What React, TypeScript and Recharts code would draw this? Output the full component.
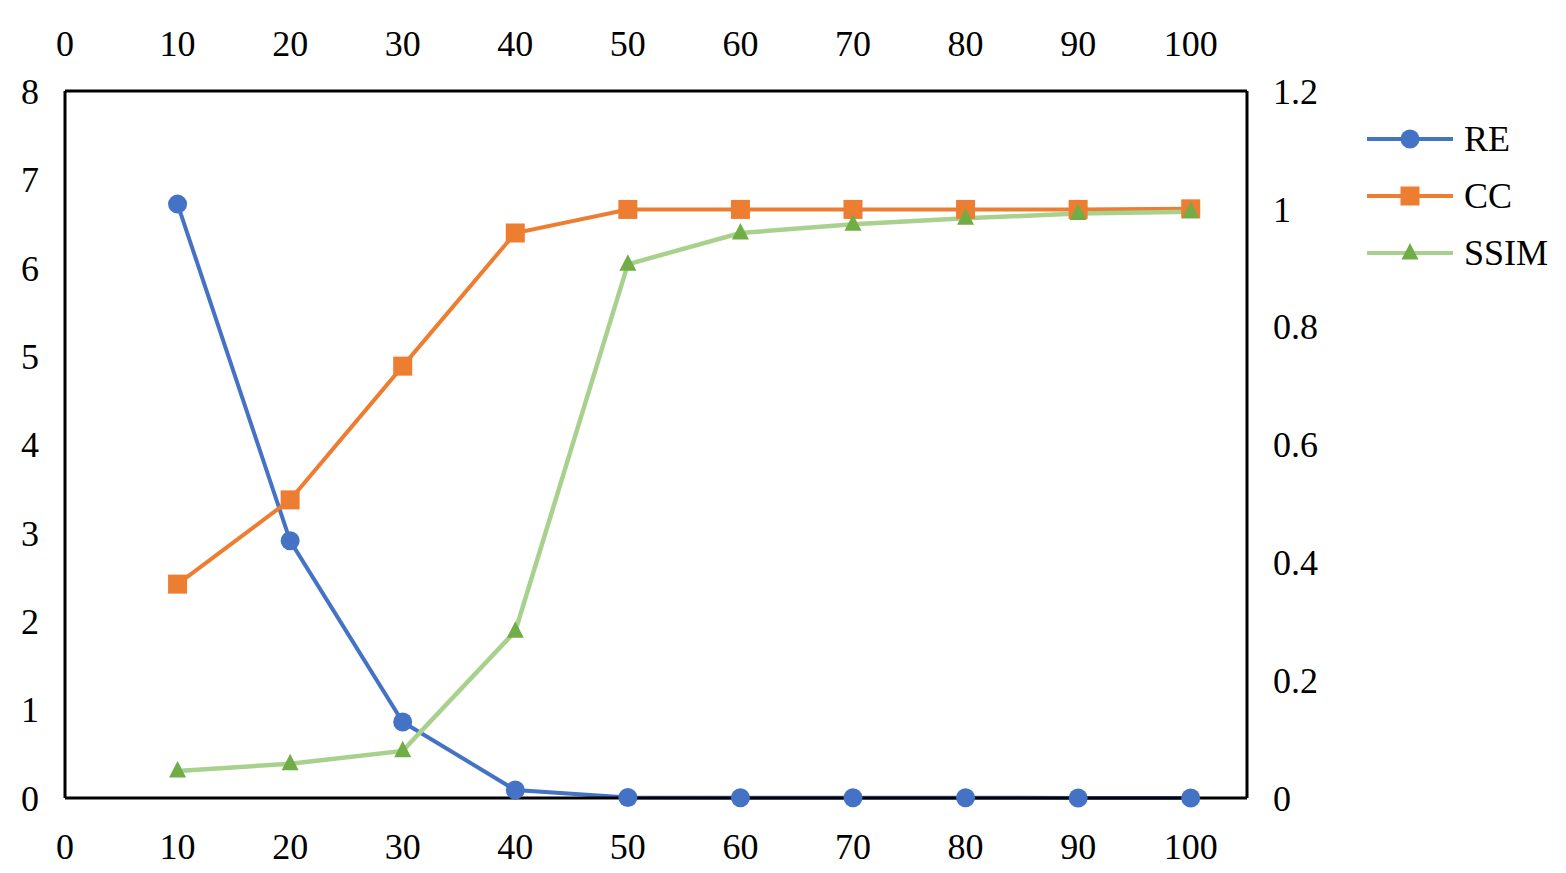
import React from "react";
import { Legend, Line, LineChart, XAxis, YAxis } from "recharts";

const steps = [10, 20, 30, 40, 50, 60, 70, 80, 90, 100];
const reValues = [6.72, 2.91, 0.86, 0.09, 0.005, 0.003, 0.002, 0.002, 0.001, 0.001];
const ccValues = [0.363, 0.506, 0.733, 0.959, 0.999, 0.999, 0.999, 0.999, 0.999, 1.0];
const ssimValues = [0.046, 0.058, 0.08, 0.283, 0.906, 0.959, 0.974, 0.984, 0.992, 0.995];

const xTicks = [0, 10, 20, 30, 40, 50, 60, 70, 80, 90, 100];
const leftTicks = [0, 1, 2, 3, 4, 5, 6, 7, 8];
const rightTicks = [0, 0.2, 0.4, 0.6, 0.8, 1, 1.2];

const BLUE = "#4472C4";
const ORANGE = "#ED7D31";
const GREEN_LINE = "#A9D18E";
const GREEN_MARK = "#70AD47";
const FONT = '"Liberation Serif", "Times New Roman", serif';

const data = steps.map((x, i) => ({
  x,
  re: reValues[i],
  cc: ccValues[i],
  ssim: ssimValues[i],
}));

const tickStyle = { fill: "#000", fontSize: 36, fontFamily: FONT };
const axisLine = { stroke: "#000", strokeWidth: 3 };

function CircleDot(props: any) {
  const { cx, cy, index } = props;
  if (cx == null || cy == null) return null;
  return <circle key={`re-${index}`} cx={cx} cy={cy} r={9.5} fill={BLUE} />;
}

function SquareDot(props: any) {
  const { cx, cy, index } = props;
  if (cx == null || cy == null) return null;
  return <rect key={`cc-${index}`} x={cx - 9.5} y={cy - 9.5} width={19} height={19} fill={ORANGE} />;
}

function TriangleDot(props: any) {
  const { cx, cy, index } = props;
  if (cx == null || cy == null) return null;
  const pts = `${cx},${cy - 10} ${cx - 8.5},${cy + 6.5} ${cx + 8.5},${cy + 6.5}`;
  return <polygon key={`ssim-${index}`} points={pts} fill={GREEN_MARK} />;
}

const legendItems = [
  { name: "RE", line: BLUE, marker: "circle" },
  { name: "CC", line: ORANGE, marker: "square" },
  { name: "SSIM", line: GREEN_LINE, marker: "triangle" },
];

function LegendContent() {
  return (
    <div style={{ fontFamily: FONT, fontSize: 36, color: "#000" }}>
      {legendItems.map((item) => (
        <div key={item.name} style={{ display: "flex", alignItems: "center", height: 57 }}>
          <svg width={98} height={30} style={{ display: "block" }}>
            <line x1={1} y1={15} x2={87} y2={15} stroke={item.line} strokeWidth={4} />
            {item.marker === "circle" ? <circle cx={44} cy={15} r={9.5} fill={BLUE} /> : null}
            {item.marker === "square" ? <rect x={34.5} y={5.5} width={19} height={19} fill={ORANGE} /> : null}
            {item.marker === "triangle" ? (
              <polygon points="44,5 35.5,21.5 52.5,21.5" fill={GREEN_MARK} />
            ) : null}
          </svg>
          <span style={{ lineHeight: "36px" }}>{item.name}</span>
        </div>
      ))}
    </div>
  );
}

export default function App() {
  return (
    <div style={{ position: "absolute", left: 0, top: 0, background: "#fff" }}>
      <LineChart width={1566} height={873} data={data} margin={{ top: 0, right: 0, bottom: 0, left: 0 }}>
        <XAxis
          xAxisId="bottom"
          dataKey="x"
          type="number"
          domain={[0, 105]}
          ticks={xTicks}
          orientation="bottom"
          height={75}
          tickLine={false}
          axisLine={axisLine}
          tick={tickStyle}
          tickMargin={29}
          interval={0}
        />
        <XAxis
          xAxisId="top"
          dataKey="x"
          type="number"
          domain={[0, 105]}
          ticks={xTicks}
          orientation="top"
          height={91}
          tickLine={false}
          axisLine={axisLine}
          tick={tickStyle}
          tickMargin={29}
          interval={0}
        />
        <YAxis
          yAxisId="left"
          type="number"
          domain={[0, 8]}
          ticks={leftTicks}
          width={65}
          tickLine={false}
          axisLine={axisLine}
          tick={tickStyle}
          tickMargin={20}
          interval={0}
        />
        <YAxis
          yAxisId="right"
          orientation="right"
          type="number"
          domain={[0, 1.2]}
          ticks={rightTicks}
          width={319}
          tickLine={false}
          axisLine={axisLine}
          tick={{ ...tickStyle, textAnchor: "start" }}
          tickMargin={20}
          interval={0}
        />
        <Legend
          layout="vertical"
          align="center"
          verticalAlign="middle"
          content={<LegendContent />}
          wrapperStyle={{ left: 1366, top: 110, width: 200 }}
        />
        <Line
          xAxisId="bottom"
          yAxisId="left"
          dataKey="re"
          name="RE"
          stroke={BLUE}
          strokeWidth={4}
          dot={<CircleDot />}
          activeDot={false}
          isAnimationActive={false}
        />
        <Line
          xAxisId="bottom"
          yAxisId="right"
          dataKey="cc"
          name="CC"
          stroke={ORANGE}
          strokeWidth={4}
          dot={<SquareDot />}
          activeDot={false}
          isAnimationActive={false}
        />
        <Line
          xAxisId="bottom"
          yAxisId="right"
          dataKey="ssim"
          name="SSIM"
          stroke={GREEN_LINE}
          strokeWidth={4.5}
          dot={<TriangleDot />}
          activeDot={false}
          isAnimationActive={false}
        />
      </LineChart>
    </div>
  );
}
